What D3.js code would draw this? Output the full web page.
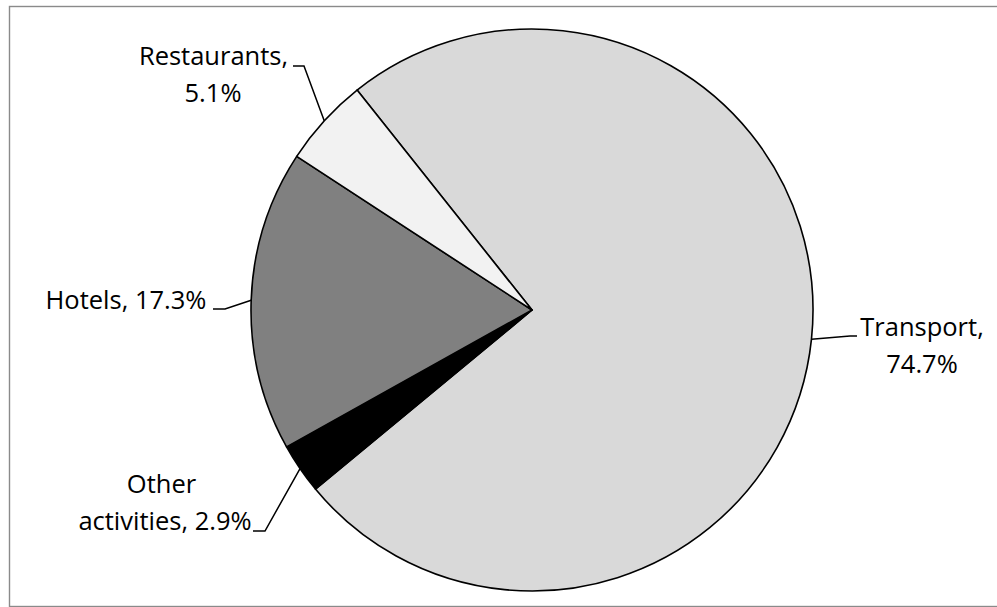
<!DOCTYPE html>
<html>
<head>
<meta charset="utf-8">
<script src="https://cdn.jsdelivr.net/npm/d3@7"></script>
<style>
  html, body { margin: 0; padding: 0; background: #fff; }
  svg { display: block; }
  text { font-family: "Open Sans", "Noto Sans", sans-serif; fill: #000; }
</style>
</head>
<body>
<svg id="chart" width="997" height="607"></svg>
<script>
// Tourism spending by activity (shares, %)
const categories = ["Transport", "Other activities", "Hotels", "Restaurants"];
const shares = [74.7, 2.9, 17.3, 5.1];
const labelLines = [
  ["Transport,", "74.7%"],
  ["Other", "activities, 2.9%"],
  ["Hotels, 17.3%"],
  ["Restaurants,", "5.1%"]
];
const fills = ["#d9d9d9", "#000000", "#808080", "#f2f2f2"];

// Label placement: text centre x, first baseline y, leader start point and knee.
const labelLayout = [
  { cx: 922, y: 336, from: [857, 336], knee: [850, 336] },
  { cx: [161.5, 165], y: 493, from: [253, 531], knee: [265, 531] },
  { cx: 126, y: 309, from: [213, 309], knee: [225, 309] },
  { cx: [213.5, 213], y: 65, from: [293, 66], knee: [304, 66] }
];

const W = 997, H = 607;
const cx = 532, cy = 310, r = 281;
const lineGap = 37;

const svg = d3.select("#chart");

// outer chart frame
svg.append("rect")
  .attr("x", 9.5).attr("y", 6.5)
  .attr("width", 1000).attr("height", 600)
  .attr("fill", "none")
  .attr("stroke", "#8a8a8a")
  .attr("stroke-width", 1.4);

const start = -38.5 * Math.PI / 180;
const pie = d3.pie().sort(null).value(d => d)
  .startAngle(start).endAngle(start + 2 * Math.PI);
const arcs = pie(shares);

const arc = d3.arc().innerRadius(0).outerRadius(r);
const rim = d3.arc().innerRadius(r).outerRadius(r);

const g = svg.append("g").attr("transform", `translate(${cx},${cy})`);
g.selectAll("path.slice")
  .data(arcs)
  .join("path")
  .attr("class", "slice")
  .attr("d", arc)
  .attr("fill", (d, i) => fills[i])
  .attr("stroke", "#000")
  .attr("stroke-width", 1.6)
  .attr("stroke-linejoin", "round");

// leader lines from label to the slice edge
arcs.forEach((d, i) => {
  const L = labelLayout[i];
  const p = rim.centroid(d);
  const pts = [L.from, L.knee, [cx + p[0], cy + p[1]]];
  svg.append("path")
    .attr("d", d3.line()(pts))
    .attr("fill", "none")
    .attr("stroke", "#000")
    .attr("stroke-width", 1.5);
});

// data labels
labelLines.forEach((lines, i) => {
  const L = labelLayout[i];
  lines.forEach((t, k) => {
    const x = Array.isArray(L.cx) ? L.cx[k] : L.cx;
    svg.append("text")
      .attr("x", x)
      .attr("y", L.y + k * lineGap)
      .attr("text-anchor", "middle")
      .attr("font-size", 25.5)
      .text(t);
  });
});
</script>
</body>
</html>
